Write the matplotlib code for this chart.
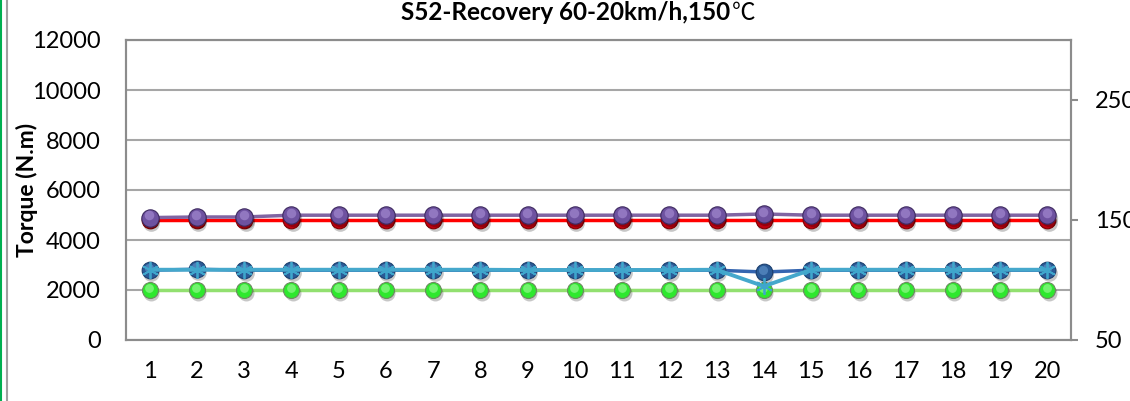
import matplotlib
matplotlib.use('Agg')
from matplotlib import pyplot as plt
from matplotlib import transforms
from matplotlib.lines import Line2D

plt.rcParams['font.family'] = ['Lato', 'Noto Sans CJK SC', 'DejaVu Sans']

# test number on the x axis
test_no = [1, 2, 3, 4, 5, 6, 7, 8, 9, 10, 11, 12, 13, 14, 15, 16, 17, 18, 19, 20]

# torque, left axis (N.m)
torque_green = [2000, 2000, 2000, 2000, 2000, 2000, 2000, 2000, 2000, 2000,
                2000, 2000, 2000, 2000, 2000, 2000, 2000, 2000, 2000, 2000]
torque_navy = [2790, 2830, 2790, 2790, 2790, 2790, 2790, 2790, 2790, 2790,
               2790, 2790, 2790, 2720, 2790, 2790, 2790, 2790, 2790, 2790]
torque_cyan = [2810, 2810, 2810, 2810, 2810, 2810, 2810, 2810, 2800, 2800,
               2800, 2800, 2810, 2150, 2810, 2810, 2810, 2800, 2810, 2810]

# temperature, right axis (deg C)
temp_red = [150, 150, 150, 150, 150, 150, 150, 150, 150, 150,
            150, 150, 150, 150, 150, 150, 150, 150, 150, 150]
temp_purple = [152, 152.5, 152.5, 154, 154, 154, 154, 154, 154, 154,
               154, 154, 154, 155, 154, 154, 154, 154, 154, 154]

title = 'S52-Recovery 60-20km/h,150'
title_unit = '℃'
ylabel = 'Torque (N.m)'

fig = plt.figure(figsize=(11.3, 4.01), dpi=100)
ax = fig.add_axes([126/1130, 1-340/401, 945/1130, 300/401])
ax2 = ax.twinx()


def sphere(axis, x, y, base, light, edge, size, z):
    shadow = transforms.offset_copy(axis.transData, fig=fig, x=1.5, y=-2.5, units='dots')
    axis.plot(x, y, 'o', ms=size, mfc='black', mec='none', alpha=0.22,
              transform=shadow, zorder=z, ls='none')
    axis.plot(x, y, 'o', ms=size, mfc=base, mec=edge, mew=0.8, zorder=z+0.1, ls='none')
    hl = transforms.offset_copy(axis.transData, fig=fig, x=-0.5, y=2.5, units='dots')
    axis.plot(x, y, 'o', ms=size*0.55, mfc=light, mec='none', alpha=0.5,
              transform=hl, zorder=z+0.2, ls='none')


ax.set_xlim(0.5, 20.5)
ax.set_ylim(0, 12000)
ax.set_yticks(range(0, 12001, 2000))
ax.set_xticks(test_no)
ax.grid(axis='y', color='#a6a6a6', lw=1.5, zorder=0)
ax.set_axisbelow(True)

# left axis series
ax.plot(test_no, torque_green, color='#92e070', lw=2.5, zorder=2)
sphere(ax, test_no, torque_green, '#2ee82e', '#b8ffb0', '#6d8a60', 11.5, 2.1)
ax.plot(test_no, torque_navy, color='#3465b0', lw=2.5, zorder=3)
sphere(ax, test_no, torque_navy, '#2a5a96', '#6fa2d8', '#1c3f6e', 12, 3.1)
ax.plot(test_no, torque_cyan, color='#45a8cc', lw=2.8, zorder=4)
ax.plot(test_no, torque_cyan, ls='none', marker=(6, 2, 0), ms=12,
        mec='#3fa6cc', mew=1.3, zorder=4.5)

# right axis series
ax2.set_ylim(50, 300)
ax2.set_yticks([50, 150, 250])
ax2.plot(test_no, temp_red, color='#ff0000', lw=2.5, zorder=2)
sphere(ax2, test_no, temp_red, '#c00010', '#ff6060', '#800000', 12, 2.1)
ax2.plot(test_no, temp_purple, color='#8064a2', lw=2.5, zorder=3)
sphere(ax2, test_no, temp_purple, '#6e52a0', '#b49ce0', '#3e2a60', 12.5, 3.1)

for a in (ax, ax2):
    for s in a.spines.values():
        s.set_color('#8c8c8c')
        s.set_linewidth(1.5)

ax.tick_params(axis='y', length=0, pad=18, labelsize=17, labelcolor='black')
ax.tick_params(axis='x', length=0, pad=15, labelsize=17, labelcolor='black')
ax2.tick_params(axis='y', length=5, width=1.5, color='#8c8c8c', pad=12,
                labelsize=17, labelcolor='black')

ax.set_ylabel(ylabel, fontsize=16.5, fontweight='bold')
ax.yaxis.set_label_coords(-0.093, 0.5)

t = fig.text(401/1130, 1-13/401, title, ha='left', va='center',
             fontsize=17.5, fontweight='bold')
unit = plt.Annotation(title_unit, xy=(1, 0.5), xycoords=t,
                      xytext=(1, 0), textcoords='offset points',
                      ha='left', va='center', fontsize=17,
                      family=['Noto Sans CJK SC', 'DejaVu Sans'])
fig.add_artist(unit)

# borders at the left edge of the picture
fig.add_artist(Line2D([1/1130, 1/1130], [0, 1], transform=fig.transFigure,
                      color='#00b050', lw=1.5))
fig.add_artist(Line2D([7/1130, 7/1130], [0, 1], transform=fig.transFigure,
                      color='#a0a0a0', lw=1.5))

fig.savefig('out.png', dpi=100)
